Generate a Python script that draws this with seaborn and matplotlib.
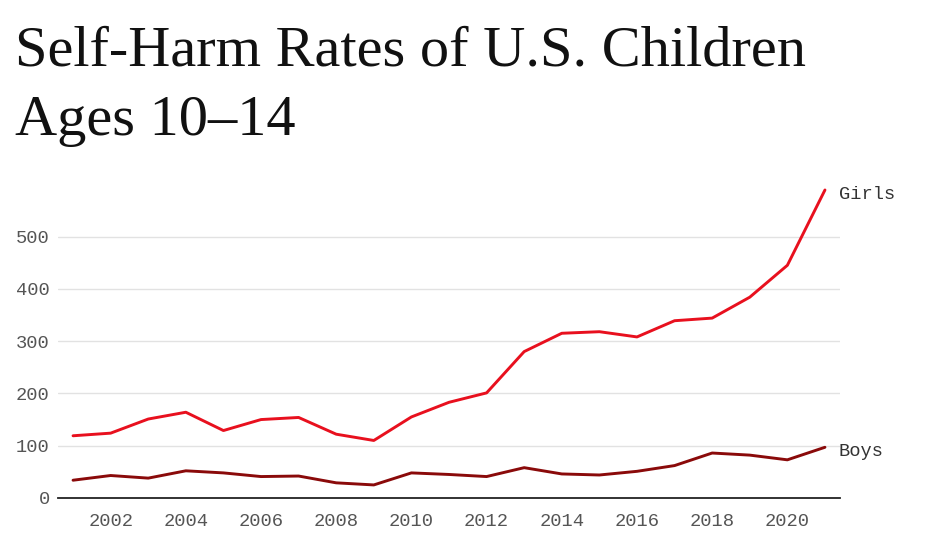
import pandas as pd
import numpy as np
import matplotlib
matplotlib.use('Agg')
import matplotlib.pyplot as plt
import seaborn as sns

# Self-harm rates per 100k, U.S. children ages 10-14
years = list(range(2001, 2022))
girls = [119, 124, 151, 164, 129, 150, 154, 122, 110, 155, 183,
         201, 280, 315, 318, 308, 339, 344, 384, 445, 589]
boys = [34, 43, 38, 52, 48, 41, 42, 29, 25, 48, 45,
        41, 58, 46, 44, 51, 62, 86, 82, 73, 97]
series_names = ['Girls', 'Boys']
series_colors = ['#e8101e', '#8a0a0a']
yticks = [0, 100, 200, 300, 400, 500]
xticks = list(range(2002, 2021, 2))

df = pd.DataFrame({
    'year': years * 2,
    'rate': girls + boys,
    'sex': ['Girls'] * len(years) + ['Boys'] * len(years),
})

sns.set_style('white')
mono = 'Liberation Mono'
serif = 'Liberation Serif'

fig = plt.figure(figsize=(9.28, 5.41), dpi=100)
ax = fig.add_axes([58 / 928, 43 / 541, (840 - 58) / 928, (498 - 179) / 541])

# Grid lines first so the series sit on top
for t in yticks[1:]:
    ax.axhline(t, color='#e2e2e2', linewidth=1, zorder=0)

sns.lineplot(data=df, x='year', y='rate', hue='sex', hue_order=series_names,
             palette=dict(zip(series_names, series_colors)), linewidth=2.1,
             legend=False, ax=ax, zorder=3)

ax.set_xlim(2000.6, 2021.4)
ax.set_ylim(0, 610)
ax.set_xticks(xticks)
ax.set_yticks(yticks)
ax.set_xlabel('')
ax.set_ylabel('')
ax.tick_params(axis='both', length=0, labelsize=13.5, labelcolor='#555555')
ax.tick_params(axis='x', pad=11)
ax.tick_params(axis='y', pad=6)
for lab in ax.get_xticklabels() + ax.get_yticklabels():
    lab.set_fontfamily(mono)

for s in ['top', 'right', 'left']:
    ax.spines[s].set_visible(False)
ax.spines['bottom'].set_color('#222222')
ax.spines['bottom'].set_linewidth(1.3)

# End labels next to the last point of each series
for name, vals in zip(series_names, [girls, boys]):
    ax.annotate(name, xy=(years[-1], vals[-1]), xytext=(10, -3),
                textcoords='offset points', va='center', ha='left',
                fontsize=13.5, fontfamily=mono, color='#333333',
                annotation_clip=False)

fig.text(15 / 928, 1 - 65 / 541, 'Self-Harm Rates of U.S. Children',
         fontsize=42, fontfamily=serif, color='#111111', va='baseline')
fig.text(15 / 928, 1 - 135 / 541, 'Ages 10\u201314',
         fontsize=42, fontfamily=serif, color='#111111', va='baseline')

fig.savefig('out.png', dpi=100)
